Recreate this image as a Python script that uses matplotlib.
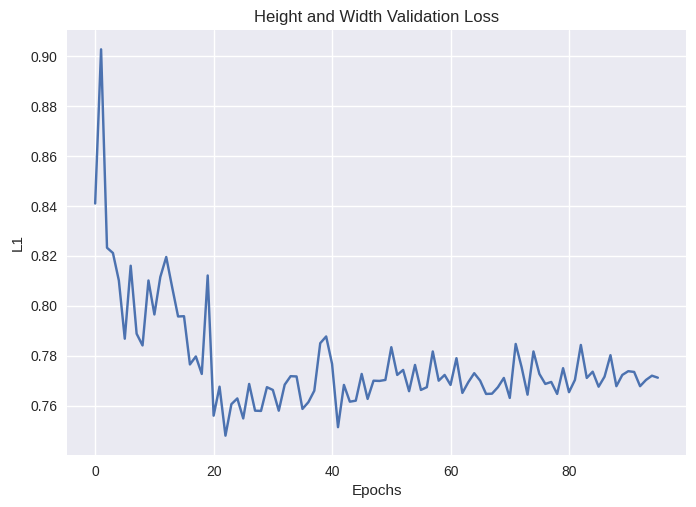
import matplotlib
matplotlib.use("Agg")
import matplotlib.pyplot as plt

# validation loss per epoch
val_loss = [
    0.8410, 0.9027, 0.8233, 0.8212, 0.8102, 0.7869, 0.8161, 0.7889, 0.7842, 0.8102,
    0.7966, 0.8116, 0.8196, 0.8075, 0.7958, 0.7959, 0.7766, 0.7798, 0.7728, 0.8122,
    0.7561, 0.7677, 0.7481, 0.7607, 0.7630, 0.7550, 0.7688, 0.7581, 0.7580, 0.7675,
    0.7664, 0.7581, 0.7685, 0.7719, 0.7718, 0.7588, 0.7615, 0.7661, 0.7851, 0.7878,
    0.7768, 0.7515, 0.7684, 0.7617, 0.7621, 0.7728, 0.7628, 0.7701, 0.7700, 0.7704,
    0.7835, 0.7724, 0.7744, 0.7659, 0.7764, 0.7664, 0.7675, 0.7818, 0.7701, 0.7724,
    0.7684, 0.7791, 0.7652, 0.7695, 0.7731, 0.7701, 0.7648, 0.7649, 0.7675, 0.7712,
    0.7632, 0.7848, 0.7755, 0.7645, 0.7818, 0.7728, 0.7688, 0.7696, 0.7648, 0.7751,
    0.7655, 0.7704, 0.7844, 0.7712, 0.7737, 0.7677, 0.7717, 0.7803, 0.7679, 0.7724,
    0.7739, 0.7736, 0.7679, 0.7704, 0.7721, 0.7713,
]
epochs = list(range(len(val_loss)))

plt.style.use("seaborn-v0_8")
plt.rcParams['font.family'] = ['Liberation Sans', 'DejaVu Sans']

fig = plt.figure(figsize=(6.96, 5.07), dpi=100)
ax = fig.add_subplot(111)
fig.subplots_adjust(left=0.0963, right=0.9856, top=0.9408, bottom=0.1026)

ax.plot(epochs, val_loss)
ax.set_title("Height and Width Validation Loss")
ax.set_xlabel("Epochs")
ax.set_ylabel("L1")

fig.savefig("out.png", dpi=100)
